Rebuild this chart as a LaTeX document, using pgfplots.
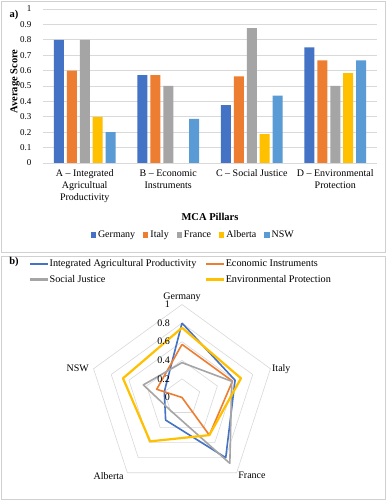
\documentclass[border=0pt]{standalone}
\usepackage{fontspec}
\setmainfont{Liberation Serif}
\usepackage{pgfplots}
\pgfplotsset{compat=1.18}
\definecolor{cGer}{HTML}{4472C4}
\definecolor{cIta}{HTML}{ED7D31}
\definecolor{cFra}{HTML}{A5A5A5}
\definecolor{cAlb}{HTML}{FFC000}
\definecolor{cNSW}{HTML}{5B9BD5}
\definecolor{gridc}{HTML}{D9D9D9}
\definecolor{framec}{HTML}{D0D0D0}
\begin{document}
\begin{tikzpicture}
\fill[white] (0pt,0pt) rectangle (386pt,500pt);
\draw[framec, line width=0.8pt] (1pt,248pt) rectangle (385pt,499pt);
\draw[framec, line width=0.8pt] (1pt,1pt) rectangle (385pt,244pt);
\node[font=\bfseries\fontsize{10.5}{12}\selectfont] at (14pt,485pt) {a)};
\node[font=\bfseries\fontsize{10.5}{12}\selectfont] at (14pt,238pt) {b)};

\begin{axis}[
  at={(43pt,337pt)}, anchor=south west, scale only axis,
  width=334pt, height=154pt,
  xmin=-0.5, xmax=3.5, ymin=0, ymax=1,
  ybar=2.9pt, bar width=10pt,
  xtick={0,1,2,3},
  xticklabels={{A -- Integrated\\Agricultual\\Productivity},{B -- Economic\\Instruments},{C -- Social Justice},{D -- Environmental\\Protection}},
  xticklabel style={align=center, font=\fontsize{10}{12}\selectfont, yshift=-3pt},
  ytick={0,0.1,0.2,0.3,0.4,0.5,0.6,0.7,0.8,0.9,1},
  yticklabel style={font=\fontsize{9}{10}\selectfont, xshift=-8pt},
  /pgf/number format/assume math mode=true,
  ymajorgrids, major grid style={gridc, line width=0.6pt},
  axis line style={draw=none}, major tick length=0pt,
  ylabel={Average Score},
  ylabel style={font=\bfseries\fontsize{10.5}{12}\selectfont, at={(axis description cs:-0.084,0.53)}, anchor=center},
  xlabel={MCA Pillars},
  xlabel style={font=\bfseries\fontsize{10.5}{12}\selectfont, at={(axis description cs:0.5,-0.35)}, anchor=center},
  legend columns=5,
  legend style={draw=none, fill=none, at={(axis description cs:0.45,-0.468)}, anchor=center,
    font=\fontsize{10}{12}\selectfont, inner sep=0pt,
    /tikz/every even column/.append style={column sep=6pt}},
]
\addplot[fill=cGer, draw=none, legend image code/.code={\fill[cGer] (0pt,-2.6pt) rectangle (5.2pt,2.6pt);}]
  coordinates {(0,0.8) (1,0.571) (2,0.375) (3,0.75)};
\addplot[fill=cIta, draw=none, legend image code/.code={\fill[cIta] (0pt,-2.6pt) rectangle (5.2pt,2.6pt);}]
  coordinates {(0,0.6) (1,0.571) (2,0.5625) (3,0.667)};
\addplot[fill=cFra, draw=none, legend image code/.code={\fill[cFra] (0pt,-2.6pt) rectangle (5.2pt,2.6pt);}]
  coordinates {(0,0.8) (1,0.5) (2,0.875) (3,0.5)};
\addplot[fill=cAlb, draw=none, legend image code/.code={\fill[cAlb] (0pt,-2.6pt) rectangle (5.2pt,2.6pt);}]
  coordinates {(0,0.3) (2,0.1875) (3,0.583)};
\addplot[fill=cNSW, draw=none, legend image code/.code={\fill[cNSW] (0pt,-2.6pt) rectangle (5.2pt,2.6pt);}]
  coordinates {(0,0.2) (1,0.286) (2,0.4375) (3,0.667)};
\legend{Germany,Italy,France,Alberta,NSW}
\end{axis}

\begin{axis}[
  at={(182pt,102.5pt)}, anchor=center, scale only axis,
  width=186pt, height=186pt,
  xmin=-1, xmax=1, ymin=-1, ymax=1,
  hide axis, clip=false,
  legend columns=2, legend cell align=left,
  legend style={draw=none, fill=none, at={(axis description cs:-0.317,1.254)}, anchor=north west,
    font=\fontsize{10.2}{12}\selectfont, inner sep=0pt, row sep=3pt,
    /tikz/every even column/.append style={column sep=8pt}},
]
\addplot[gridc, line width=0.6pt, data cs=polar, forget plot] coordinates {(90,1)(18,1)(-54,1)(-126,1)(162,1)(90,1)};
\addplot[gridc, line width=0.6pt, data cs=polar, forget plot] coordinates {(90,0.8)(18,0.8)(-54,0.8)(-126,0.8)(162,0.8)(90,0.8)};
\addplot[gridc, line width=0.6pt, data cs=polar, forget plot] coordinates {(90,0.6)(18,0.6)(-54,0.6)(-126,0.6)(162,0.6)(90,0.6)};
\addplot[gridc, line width=0.6pt, data cs=polar, forget plot] coordinates {(90,0.4)(18,0.4)(-54,0.4)(-126,0.4)(162,0.4)(90,0.4)};
\addplot[gridc, line width=0.6pt, data cs=polar, forget plot] coordinates {(90,0.2)(18,0.2)(-54,0.2)(-126,0.2)(162,0.2)(90,0.2)};
\addplot[cGer, line width=1.6pt, line join=round, data cs=polar, forget plot]
  coordinates {(90,0.8)(18,0.6)(-54,0.8)(-126,0.3)(162,0.2)(90,0.8)};
\addplot[cIta, line width=1.6pt, line join=round, data cs=polar, forget plot]
  coordinates {(90,0.571)(18,0.571)(-54,0.5)(-126,0)(162,0.286)(90,0.571)};
\addplot[cFra, line width=1.6pt, line join=round, data cs=polar, forget plot]
  coordinates {(90,0.375)(18,0.5625)(-54,0.875)(-126,0.1875)(162,0.4375)(90,0.375)};
\addplot[cAlb, line width=2.2pt, line join=round, data cs=polar, forget plot]
  coordinates {(90,0.75)(18,0.667)(-54,0.5)(-126,0.583)(162,0.667)(90,0.75)};
\addlegendimage{legend image code/.code={\fill[cGer] (0pt,-0.9pt) rectangle (17pt,0.9pt);}}
\addlegendentry{Integrated Agricultural Productivity}
\addlegendimage{legend image code/.code={\fill[cIta] (0pt,-0.9pt) rectangle (17pt,0.9pt);}}
\addlegendentry{Economic Instruments}
\addlegendimage{legend image code/.code={\fill[cFra] (0pt,-0.9pt) rectangle (17pt,0.9pt);}}
\addlegendentry{Social Justice}
\addlegendimage{legend image code/.code={\fill[cAlb] (0pt,-0.9pt) rectangle (17pt,0.9pt);}}
\addlegendentry{Environmental Protection}
\foreach \r/\t in {0/0,0.2/0.2,0.4/0.4,0.6/0.6,0.8/0.8,1/1}{
  \edef\temp{\noexpand\node[anchor=east, inner sep=0pt, xshift=-12pt, font=\noexpand\fontsize{10}{12}\noexpand\selectfont] at (axis cs:0,\r) {\t};}
  \temp
}
\node[anchor=south, inner sep=1.5pt, yshift=1pt, font=\fontsize{10}{12}\selectfont] at (axis cs:0,1) {Germany};
\node[anchor=west, inner sep=1.5pt, font=\fontsize{10}{12}\selectfont] at (axis cs:0.951,0.309) {Italy};
\node[anchor=west, inner sep=1.5pt, yshift=-3pt, font=\fontsize{10}{12}\selectfont] at (axis cs:0.588,-0.809) {France};
\node[anchor=east, inner sep=1.5pt, yshift=-3pt, xshift=-2pt, font=\fontsize{10}{12}\selectfont] at (axis cs:-0.588,-0.809) {Alberta};
\node[anchor=east, inner sep=1.5pt, xshift=-3pt, font=\fontsize{10}{12}\selectfont] at (axis cs:-0.951,0.309) {NSW};
\end{axis}
\end{tikzpicture}
\end{document}
